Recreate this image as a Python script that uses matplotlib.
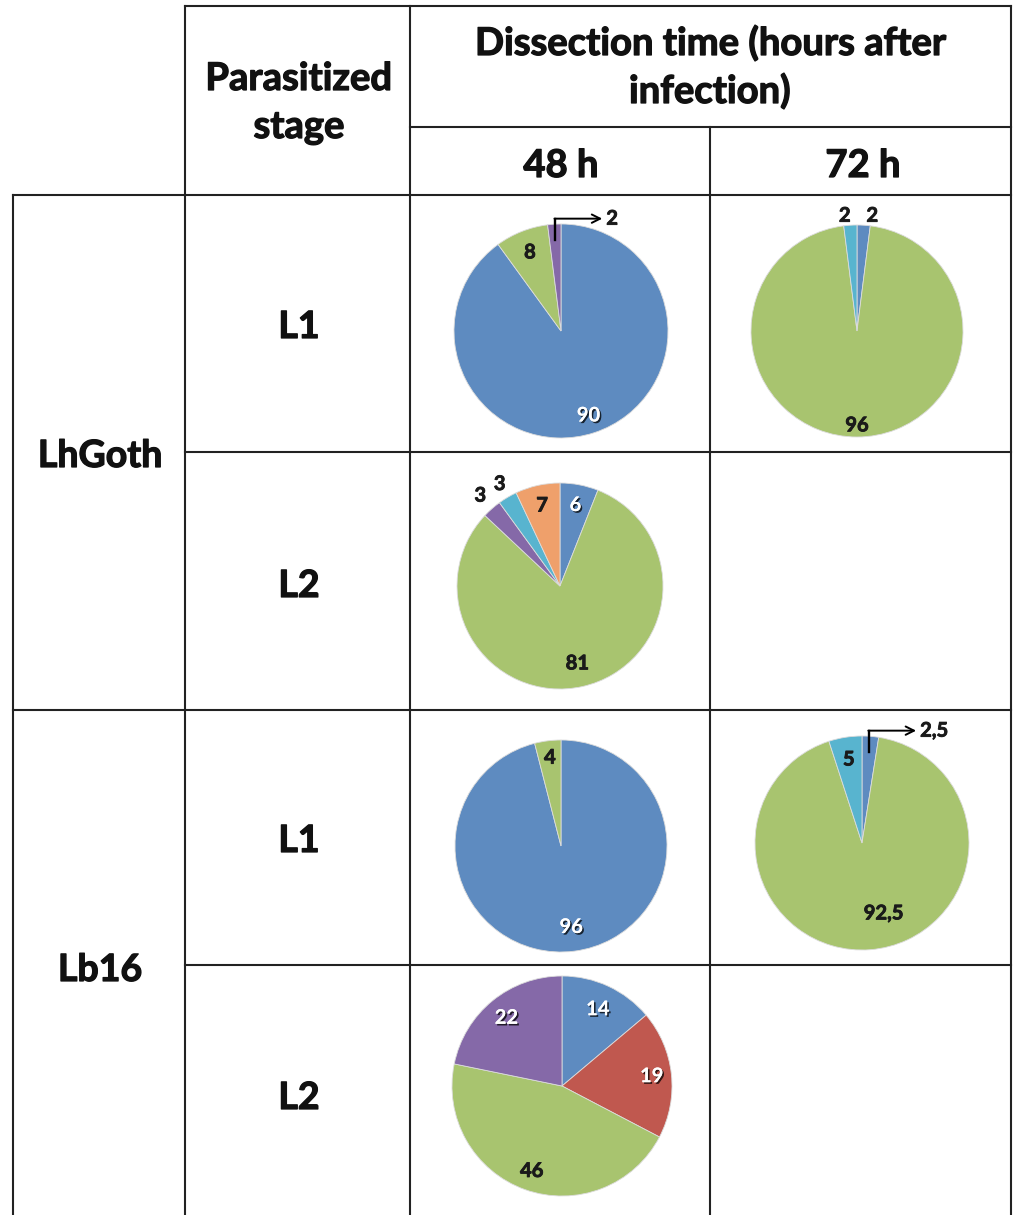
import numpy as np
import matplotlib.pyplot as plt
import matplotlib.patheffects as pe

plt.rcParams['font.family'] = ['Lato', 'DejaVu Sans']
plt.rcParams['font.weight'] = 'bold'

# slice categories in Excel's default order (blue, red, green, purple, aqua, orange)
categories = ['A', 'B', 'C', 'D', 'E', 'F']
palette = ['#5E8BC0', '#C0584F', '#A8C46F', '#8569A8', '#58B4CF', '#EFA06B']

# percentages per pie, one value per category (0 = absent)
lhgoth_l1_48h = [90, 0, 8, 2, 0, 0]
lhgoth_l1_72h = [2, 0, 96, 0, 2, 0]
lhgoth_l2_48h = [6, 0, 81, 3, 3, 7]
lb16_l1_48h = [96, 0, 4, 0, 0, 0]
lb16_l1_72h = [2.5, 0, 92.5, 0, 5, 0]
lb16_l2_48h = [14, 19, 46, 22, 0, 0]

strains = ['LhGoth', 'Lb16']
stages = ['L1', 'L2', 'L1', 'L2']
times = ['48 h', '72 h']

W, H = 1016, 1215
fig = plt.figure(figsize=(W / 100, H / 100), dpi=100)
ax = fig.add_axes([0, 0, 1, 1])


def Y(y):
    return H - y


# heavier strokes to get closer to the Calibri Bold look
heavy = [pe.withStroke(linewidth=0.9, foreground='#111111')]

# table grid (pixel layout)
lc = '#222222'
lw = 1.5
hlines = [(6, 185, 1011), (127, 410, 1011), (195, 13, 1011), (452, 185, 1011),
          (710, 13, 1011), (965, 185, 1011)]
vlines = [(13, 195, H), (185, 6, H), (410, 6, H), (710, 127, H), (1011, 6, H)]
for y, x0, x1 in hlines:
    ax.plot([x0, x1], [Y(y), Y(y)], color=lc, lw=lw, solid_capstyle='projecting')
for x, y0, y1 in vlines:
    ax.plot([x, x], [Y(y0), Y(y1)], color=lc, lw=lw, solid_capstyle='projecting')

# header texts
hfs = 27.5
kw = dict(ha='center', va='baseline', color='#111111', path_effects=heavy)
ax.text(299, Y(90), 'Parasitized', fontsize=hfs, **kw)
ax.text(299, Y(138), 'stage', fontsize=hfs, **kw)
ax.text(711, Y(55), 'Dissection time (hours after', fontsize=hfs, **kw)
ax.text(710, Y(103), 'infection)', fontsize=hfs, **kw)
for t, x in zip(times, [561, 863]):
    ax.text(x, Y(177), t, fontsize=27.5, **kw)
for s, y in zip(strains, [467, 981]):
    ax.text(100, Y(y), s, fontsize=27, **kw)
for s, y in zip(stages, [338, 597, 852, 1109]):
    ax.text(299, Y(y), s, fontsize=27, **kw)

# pies: values, centre, radius, label placement per category
# number = radial distance of the label, 'arrow' = callout with arrow
pies = [
    (lhgoth_l1_48h, (561, 331), 107, [0.83, 0, 0.79, 'arrow', 0, 0]),
    (lhgoth_l1_72h, (857, 331), 106, [1.09, 0, 0.89, 0, 1.09, 0]),
    (lhgoth_l2_48h, (560, 586), 103, [0.8, 0, 0.77, 1.17, 1.15, 0.8]),
    (lb16_l1_48h, (561, 846), 106, [0.77, 0, 0.84, 0, 0, 0]),
    (lb16_l1_72h, (862, 843), 107, ['arrow', 0, 0.66, 0, 0.79, 0]),
    (lb16_l2_48h, (562, 1086), 110, [0.77, 0.82, 0.82, 0.8, 0, 0]),
]
# small horizontal nudges (pixels) for labels Excel moved off the mid angle
nudges = {(1, 0): 8, (1, 4): -5, (4, 2): 16}

pfs = 14.5
shadow = [pe.withSimplePatchShadow(offset=(1.2, -1.2), shadow_rgbFace='black', alpha=0.75),
          pe.Normal()]
dark = [pe.withStroke(linewidth=0.6, foreground='#1a1a1a')]

for k, (vals, (cx, cy), r, dists) in enumerate(pies):
    idx = [i for i, v in enumerate(vals) if v > 0]
    wedges, _ = ax.pie([vals[i] for i in idx], colors=[palette[i] for i in idx],
                       startangle=90, counterclock=False,
                       center=(cx, Y(cy)), radius=r,
                       wedgeprops=dict(edgecolor='#dcdcdc', linewidth=0.6))
    for w, i in zip(wedges, idx):
        txt = ('%g' % vals[i]).replace('.', ',')
        ang = np.deg2rad((w.theta1 + w.theta2) / 2)
        d = dists[i]
        if d == 'arrow':
            x0 = cx + 0.85 * r * np.cos(ang)
            y0 = Y(cy) + 0.85 * r * np.sin(ang)
            ye = Y(cy) + 1.05 * r
            ax.plot([x0, x0], [y0, ye], color='black', lw=1.7)
            ax.annotate('', xy=(x0 + 47, ye), xytext=(x0 - 0.8, ye),
                        arrowprops=dict(arrowstyle='->', color='black', lw=1.4,
                                        shrinkA=0, shrinkB=0, mutation_scale=15))
            ax.text(x0 + 51, ye, txt, ha='left', va='center', fontsize=pfs,
                    color='#1a1a1a', path_effects=dark)
            continue
        tx = cx + d * r * np.cos(ang) + nudges.get((k, i), 0)
        ty = Y(cy) + d * r * np.sin(ang)
        white = d < 1 and categories[i] in ('A', 'B', 'D')
        ax.text(tx, ty, txt, ha='center', va='center', fontsize=pfs,
                color='white' if white else '#1a1a1a',
                path_effects=shadow if white else dark)

ax.set_xlim(0, W)
ax.set_ylim(0, H)
ax.set_aspect('auto')
ax.axis('off')

fig.savefig('out.png', dpi=100)
